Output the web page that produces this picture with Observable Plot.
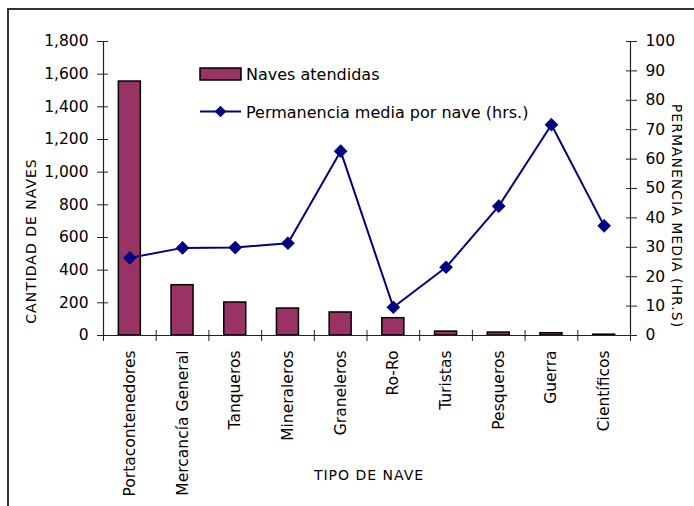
<!DOCTYPE html>
<html>
<head>
<meta charset="utf-8">
<script src="https://cdn.jsdelivr.net/npm/d3@7"></script>
<script src="https://cdn.jsdelivr.net/npm/@observablehq/plot@0.6"></script>
<style>
  body { margin: 0; background: #fff; font-family: "DejaVu Sans", sans-serif; }
  #wrap { position: relative; width: 694px; height: 506px; overflow: hidden; }
  #frame { position: absolute; left: 7px; top: 8px; width: 720px; height: 540px;
           border-top: 2px solid #333; border-left: 2px solid #333; }
  #chart { position: absolute; left: 0; top: 0; }
  #legend { position: absolute; left: 0; top: 0; pointer-events: none; }
</style>
</head>
<body>
<div id="wrap">
  <div id="frame"></div>
  <div id="chart"></div>
  <div id="legend"></div>
</div>
<script>
// ---- data ----
const categories = ["Portacontenedores", "Mercancía General", "Tanqueros", "Mineraleros",
  "Graneleros", "Ro-Ro", "Turistas", "Pesqueros", "Guerra", "Científicos"];
const navesAtendidas = [1555, 308, 202, 165, 141, 106, 24, 18, 14, 5];
const permanencia = [26.4, 29.8, 29.9, 31.4, 62.7, 9.6, 23.2, 44.0, 71.7, 37.3];
const leftTicks = [0, 200, 400, 600, 800, 1000, 1200, 1400, 1600, 1800];
const rightTicks = [0, 10, 20, 30, 40, 50, 60, 70, 80, 90, 100];
const seriesNames = ["Naves atendidas", "Permanencia media por nave (hrs.)"];
const yTitleLeft = "CANTIDAD DE NAVES";
const yTitleRight = "PERMANENCIA MEDIA (HR.S)";
const xTitle = "TIPO DE NAVE";

// ---- layout / style ----
const W = 694, H = 506;
const mL = 103, mR = 64, mT = 41, mB = 171;
const leftMax = 1800, rightMax = 100, ratio = leftMax / rightMax;
const bw = (W - mL - mR) / categories.length;
const barColor = "#993366", lineColor = "#000080", axisColor = "#222";

const table = categories.map((c, i) => ({tipo: c, naves: navesAtendidas[i], perm: permanencia[i] * ratio}));

const chart = Plot.plot({
  width: W, height: H,
  marginLeft: mL, marginRight: mR, marginTop: mT, marginBottom: mB,
  style: {fontFamily: "DejaVu Sans", fontSize: "15.5px", color: "#000", background: "transparent", overflow: "visible"},
  x: {type: "band", domain: categories, padding: 0, round: false},
  y: {domain: [0, leftMax]},
  marks: [
    Plot.barY(table, {x: "tipo", y: "naves", fill: barColor, stroke: "#000", strokeWidth: 1.5,
      insetLeft: (bw - 22) / 2, insetRight: (bw - 22) / 2}),
    // axis lines
    Plot.ruleY([0], {stroke: axisColor, strokeWidth: 1.2}),
    Plot.ruleX([categories[0]], {y1: 0, y2: leftMax, dx: -bw / 2, stroke: axisColor, strokeWidth: 1.2}),
    Plot.ruleX([categories[categories.length - 1]], {y1: 0, y2: leftMax, dx: bw / 2, stroke: axisColor, strokeWidth: 1.2}),
    // left axis
    Plot.axisY(leftTicks, {anchor: "left", tickSize: 11, dx: 5, tickFormat: () => "", label: null, stroke: axisColor}),
    Plot.axisY(leftTicks, {anchor: "left", tickSize: 0, tickPadding: 15, tickFormat: d3.format(","), label: null}),
    // right axis
    Plot.axisY(rightTicks.map(v => v * ratio), {anchor: "right", tickSize: 11, dx: -5, tickFormat: () => "", label: null, stroke: axisColor}),
    Plot.axisY(rightTicks.map(v => v * ratio), {anchor: "right", tickSize: 0, tickPadding: 15, tickFormat: d => String(Math.round(d / ratio)), label: null}),
    // x axis boundary ticks
    Plot.axisX(categories, {tickSize: 11, dy: -5, dx: -bw / 2, tickFormat: () => "", label: null, stroke: axisColor}),
    Plot.axisX([categories[categories.length - 1]], {tickSize: 11, dy: -5, dx: bw / 2, tickFormat: () => "", label: null, stroke: axisColor}),
    Plot.axisX(categories, {tickSize: 0, tickPadding: 15, tickRotate: -90, label: null}),
    // line series
    Plot.line(table, {x: "tipo", y: "perm", stroke: lineColor, strokeWidth: 2}),
    Plot.dot(table, {x: "tipo", y: "perm", symbol: "diamond2", r: 5.2, fill: lineColor, stroke: lineColor})
  ]
});
document.getElementById("chart").appendChild(chart);

// ---- legend and axis titles (overlay) ----
const lg = d3.select("#legend").append("svg").attr("width", W).attr("height", H)
  .style("font-family", "DejaVu Sans").style("font-size", "16px");
lg.append("rect").attr("x", 200).attr("y", 68).attr("width", 41).attr("height", 12)
  .attr("fill", barColor).attr("stroke", "#000").attr("stroke-width", 1.5);
lg.append("text").attr("x", 246).attr("y", 80).text(seriesNames[0]);
lg.append("line").attr("x1", 200).attr("x2", 241).attr("y1", 111.5).attr("y2", 111.5)
  .attr("stroke", lineColor).attr("stroke-width", 2);
lg.append("path").attr("d", d3.symbol(d3.symbolDiamond2, Math.PI * 5.2 * 5.2)())
  .attr("transform", "translate(220.5,111.5)").attr("fill", lineColor);
lg.append("text").attr("x", 246).attr("y", 118).text(seriesNames[1]);

const titles = lg.append("g").style("font-size", "14px").attr("letter-spacing", "1px").attr("text-anchor", "middle");
titles.append("text").attr("transform", "translate(36,241) rotate(-90)").text(yTitleLeft);
titles.append("text").attr("transform", "translate(672,216) rotate(90)").text(yTitleRight);
titles.append("text").attr("x", 369).attr("y", 480).text(xTitle);
</script>
</body>
</html>
